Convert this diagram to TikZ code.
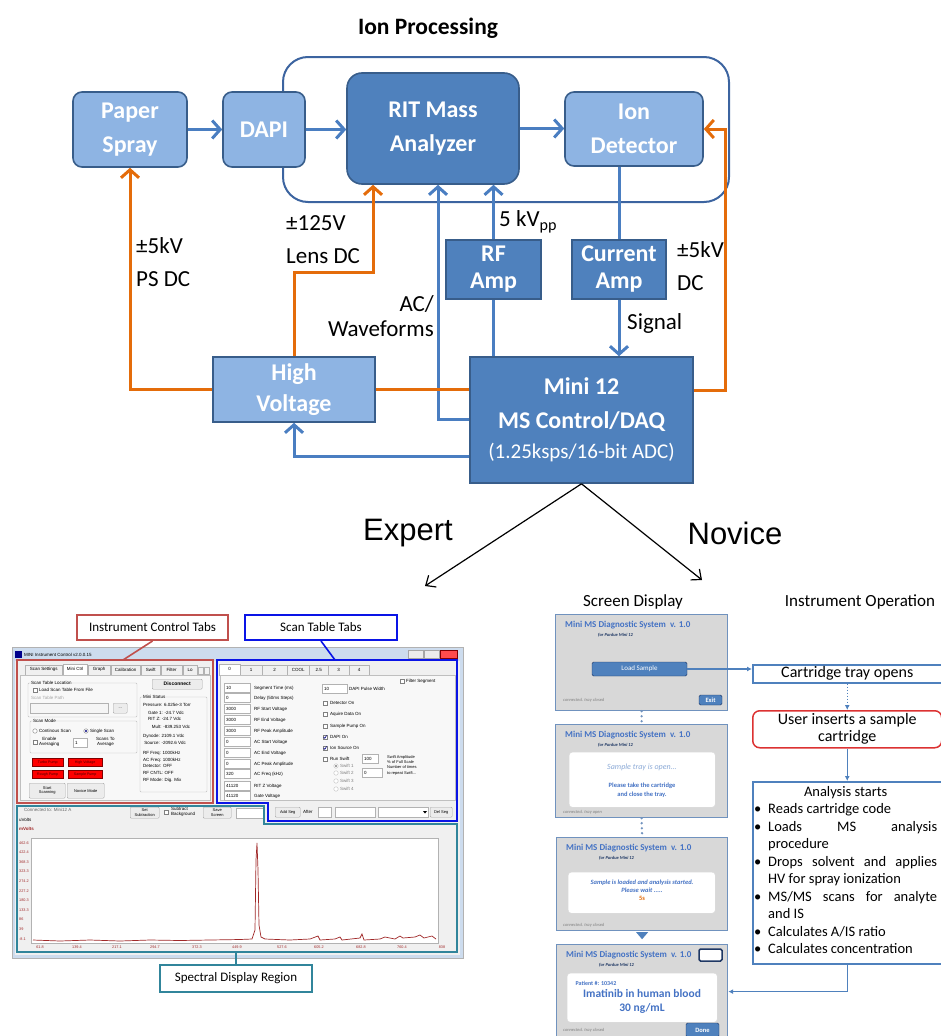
\documentclass[tikz,border=0pt]{standalone}
\usepackage{fontspec}
\setmainfont{Carlito}
\newfontfamily\uifont{Liberation Sans}
\usetikzlibrary{arrows.meta}
\definecolor{lightfill}{RGB}{142,180,227}
\definecolor{darkfill}{RGB}{79,129,189}
\definecolor{blkline}{RGB}{56,93,138}
\definecolor{linkblue}{RGB}{74,126,193}
\definecolor{hvorange}{RGB}{228,108,10}
\definecolor{grpline}{RGB}{60,100,160}
\definecolor{ictred}{RGB}{192,80,77}
\definecolor{sttblue}{RGB}{10,20,230}
\definecolor{sdrteal}{RGB}{49,133,155}
\definecolor{scrfill}{RGB}{216,216,216}
\definecolor{scrline}{RGB}{112,146,190}
\definecolor{scrtext}{RGB}{68,114,196}
\definecolor{scrdark}{RGB}{31,56,100}
\definecolor{scrlight}{RGB}{140,170,215}
\definecolor{uisred}{RGB}{220,50,50}
\definecolor{specred}{RGB}{160,40,40}
\definecolor{winframe}{RGB}{205,220,238}
\definecolor{client}{RGB}{240,240,240}
\newcommand\bul{\makebox[14pt][l]{\textbullet}}

\begin{document}
\begin{tikzpicture}[x=1pt,y=-1pt]
\tikzset{
  blk/.style={draw=blkline, line width=1.6pt, text=white, align=center, inner sep=0pt, font=\fontsize{24}{34}\selectfont\bfseries},
  lblk/.style={blk, fill=lightfill, rounded corners=9pt},
  dblk/.style={blk, fill=darkfill},
  lbl/.style={font=\fontsize{23}{33}\selectfont, align=left, inner sep=0pt},
  blueline/.style={draw=linkblue, line width=3pt},
  bluearr/.style={blueline, -{Straight Barb[length=8pt,width=18pt]}},
  orgline/.style={draw=hvorange, line width=3pt},
  orgarr/.style={orgline, -{Straight Barb[length=8pt,width=18pt]}},
  userarr/.style={draw=black, line width=1.2pt, -{Straight Barb[length=8pt,width=14pt]}},
  ui/.style={font=\uifont\fontsize{4.5}{5.5}\selectfont, inner sep=0pt, anchor=west},
  uibtn/.style={draw=gray!70, fill=gray!15, rounded corners=1pt, inner sep=0pt, align=center, anchor=north west, font=\uifont\fontsize{4}{4.6}\selectfont},
  redbtn/.style={draw=red!50!black, fill=red, text=red!30!black, inner sep=0pt, anchor=north west, minimum height=8, font=\uifont\fontsize{3.6}{4}\selectfont},
  tabst/.style={draw=gray!60, fill=gray!12, minimum height=10, inner sep=0pt, font=\uifont\fontsize{4.5}{5}\selectfont},
  chk/.style={draw=gray, fill=white, minimum size=4.5, inner sep=0pt},
  radio/.style={chk, circle},
  inbox/.style={draw=gray!60, fill=white, minimum height=9, inner sep=0pt},
  regbox/.style={fill=white, line width=2pt, minimum height=25, inner sep=0pt, font=\fontsize{13}{15}\selectfont},
  scr/.style={draw=scrline, fill=scrfill, line width=1.2pt, anchor=north west, inner sep=0pt},
  scrt/.style={font=\fontsize{9}{10}\selectfont\bfseries, text=scrtext, anchor=west, inner sep=0pt},
  scrs/.style={font=\fontsize{4.5}{5}\selectfont\bfseries\itshape, text=scrdark, anchor=west, inner sep=0pt},
  scrc/.style={font=\fontsize{4.5}{5}\selectfont\itshape, text=gray, anchor=west, inner sep=0pt},
  wbox/.style={draw=gray!30, fill=white, rounded corners=3pt, anchor=north west, inner sep=0pt},
  smbtn/.style={draw=scrdark, fill=darkfill, text=white, rounded corners=1.5pt, inner sep=0pt, font=\fontsize{6.5}{7}\selectfont\bfseries},
  opbox/.style={draw=darkfill, fill=white, line width=1.5pt, align=center, inner sep=0pt, anchor=north west, font=\fontsize{16}{17}\selectfont},
  oparr/.style={draw=darkfill, line width=1.5pt, -{Latex[length=5pt,width=5pt]}},
  dotcon/.style={draw=scrline, line width=2.6pt, line cap=round, dash pattern=on 0pt off 5pt}
}
\useasboundingbox (0,0) rectangle (941,1036);

\node[font=\fontsize{23.5}{26}\selectfont\bfseries] (IPT) at (428,28) {Ion Processing};
\draw[draw=grpline, line width=2pt, rounded corners=25pt] (283,57) rectangle (729,202);

\node[lblk, minimum width=114, minimum height=75] (PS) at (130,129.5) {Paper\\Spray};
\node[lblk, minimum width=82, minimum height=75] (DAPI) at (264,129.5) {DAPI};
\node[dblk, rounded corners=15pt, minimum width=172, minimum height=111] (RIT) at (433,128.5) {RIT Mass\\Analyzer};
\node[lblk, minimum width=138, minimum height=74] (ID) at (634,129) {Ion\\Detector};
\node[dblk, minimum width=95, minimum height=59, font=\fontsize{24}{27}\selectfont\bfseries] (RF) at (493.5,269.5) {RF\\Amp};
\node[dblk, minimum width=94, minimum height=59, font=\fontsize{24}{27}\selectfont\bfseries] (CA) at (619,269.5) {Current\\Amp};
\node[blk, fill=lightfill, minimum width=162, minimum height=65, font=\fontsize{24}{31}\selectfont\bfseries] (HV) at (294,389.5) {High\\Voltage};
\node[dblk, minimum width=223, minimum height=126] (MC) at (581.5,420) {Mini 12\\MS Control/DAQ\\[-4pt]{\mdseries\fontsize{21}{28}\selectfont (1.25ksps/16-bit ADC)}};

\coordinate (lens) at (373,272);
\coordinate (acw) at (438,419);
\coordinate (hvin) at (294,456);
\coordinate (dcr) at (725,390);

\draw[bluearr] (PS) -- (DAPI);
\draw[bluearr] (DAPI.east) -- (DAPI.east -| RIT.west);
\draw[bluearr] (RIT.east) -- (RIT.east -| ID.west);
\draw[blueline] (MC.north -| RF.south) -- (RF.south);
\draw[bluearr] (RF.north) -- (RF.north |- RIT.south);
\draw[blueline] (CA.north |- ID.south) -- (CA.north);
\draw[bluearr] (CA.south) -- (CA.south |- MC.north);
\draw[bluearr] (MC.west |- acw) -- (acw) -- (acw |- RIT.south);
\draw[bluearr] (MC.west |- hvin) -- (hvin) -- (HV.south);
\draw[orgarr] (HV.west) -| (PS.south);
\draw[orgarr] (HV.north) |- (lens) -- (lens |- RIT.south);
\draw[orgline] (HV.east) -- (HV.east -| MC.west);
\draw[orgarr] (MC.east |- dcr) -- (dcr) -- (dcr |- ID.east) -- (ID.east);

\node[lbl, anchor=west] (psdc) at (136,262) {±5kV\\PS DC};
\node[lbl, anchor=west] (lensdc) at (286,240) {±125V\\Lens DC};
\node[lbl, anchor=east, align=right, font=\fontsize{23}{25}\selectfont] (acwl) at (434,316) {AC/\\Waveforms};
\node[lbl, anchor=west] (kvpp) at (499,222) {5 kV\textsubscript{pp}};
\node[lbl, anchor=west] (dc5) at (677,266) {±5kV\\DC};
\node[lbl, anchor=west] (sig) at (627,323) {Signal};

\coordinate (expe) at (425,586);
\coordinate (nove) at (702,580);
\draw[userarr] (MC.south) -- (expe);
\draw[userarr] (MC.south) -- (nove);
\node[font=\uifont\fontsize{31}{34}\selectfont] (EXP) at (408,533) {Expert};
\node[font=\uifont\fontsize{31}{34}\selectfont] (NOV) at (735,533) {Novice};

\draw[draw=gray!60, fill=winframe] (12,647) rectangle (463,958);
\fill[client] (15,661) rectangle (460,955);
\fill[blue!55!black] (15,651) rectangle (22,658);
\node[ui] (wtitle) at (24,655) {MINI Instrument Control v2.0.0.15};
\draw[gray!70, fill=gray!15] (408,650) rectangle (423,658);
\draw[gray!70, fill=gray!15] (424,650) rectangle (439,658);
\draw[red!50!black, fill=red!70] (440,650) rectangle (457,658);

\foreach \x/\w/\lab [count=\i] in {25/37/Scan Settings,88/22/Graph,111/29/Calibration,141/19/Swift,161/21/Filter,183/14/Lo}
  \node[tabst, minimum width=\w, anchor=south west] (lt\i) at (\x,675) {\lab};
\node[tabst, fill=white, minimum width=24, minimum height=11, anchor=south west] (ltsel) at (63,675) {Mini Ctrl};
\draw[gray!60, fill=gray!10] (198,667) rectangle (203,674);
\draw[gray!60, fill=gray!10] (204,667) rectangle (209,674);
\draw[gray!50, fill=client!50!white] (20,675) rectangle (210,800);

\draw[gray!50, rounded corners=1pt] (28,683) rectangle (137,717);
\node[ui, fill=client!50!white] (gstl) at (31,683) {Scan Table Location};
\node[chk] (c1) at (35,690) {};
\node[ui] (c1l) at (39,690) {Load Scan Table From File};
\node[ui, text=gray!70] (stp) at (31,698) {Scan Table Path};
\node[inbox, fill=gray!8, minimum width=78, minimum height=10, anchor=north west] (stpbox) at (30,703) {};
\node[uibtn, minimum width=14, minimum height=10] (dots) at (113,703) {...};

\draw[gray!50, rounded corners=1pt] (30,721) rectangle (137,753);
\node[ui, fill=client!50!white] (gsm) at (33,721) {Scan Mode};
\node[radio] (r1) at (35,731) {};
\node[ui] (r1l) at (39,731) {Continous Scan};
\node[radio, path picture={\fill[blue!50!black] (path picture bounding box.center) circle (1.2pt);}] (r2) at (86,731) {};
\node[ui] (r2l) at (90,731) {Single Scan};
\node[chk] (c2) at (35,742) {};
\node[ui, align=center] (c2l) at (39,742) {Enable\\Averaging};
\node[inbox, minimum width=14, anchor=west] (avg) at (73,743) {};
\node[ui] (avgv) at (75,743) {1};
\node[ui, align=center] (sta) at (96,742) {Scans To\\Average};

\node[redbtn, minimum width=31] (tp) at (32,758) {Turbo Pump};
\node[redbtn, minimum width=34] (hvp) at (68,758) {High Voltage};
\node[redbtn, minimum width=31] (rp) at (32,770) {Rough Pump};
\node[redbtn, minimum width=34] (sp) at (68,770) {Sample Pump};
\node[uibtn, minimum width=36, minimum height=15] (ssb) at (29,783) {Start\\Scanning};
\node[uibtn, minimum width=37, minimum height=15] (nmb) at (67,783) {Novice Mode};

\node[uibtn, minimum width=50, minimum height=10, font=\uifont\bfseries\fontsize{5}{6}\selectfont] (disc) at (152,679) {Disconnect};
\draw[gray!50, rounded corners=1pt] (140,697) rectangle (207,792);
\node[ui, fill=client!50!white] (mstat) at (143,697) {Mini Status};
\foreach \y/\lab [count=\i] in {705/Pressure: 6.025e-3 Torr,713/\ \ \ \ Gate 1: -24.7 Vdc,719/\ \ \ \ RIT Z: -24.7 Vdc,727/\ \ \ \ \ \ \ Mult: -839.253 Vdc,736/Dynode: 2109.1 Vdc,743/\ Source: -2092.6 Vdc,753/RF Freq: 1000kHz,760/AC Freq: 1000kHz,766/Detector: OFF,773/RF CNTL: OFF,780/RF Mode: Dig. Mix}
  \node[ui] (ms\i) at (143,\y) {\lab};

\foreach \x/\w/\lab [count=\i] in {240/22/1,262/25/2,287/22/COOL,309/19/2.5,328/21/3,349/20/4}
  \node[tabst, minimum width=\w, anchor=south west] (rt\i) at (\x,675) {\lab};
\node[tabst, fill=white, minimum width=21, minimum height=11, anchor=south west] (rtsel) at (219,675) {0};
\draw[gray!50, fill=client!50!white] (220,675) rectangle (455,800);

\foreach \y/\val/\lab [count=\i] in {688/10/Segment Time (ms),698/0/Delay (50ms Steps),709/3000/RF Start Voltage,720/3000/RF End Voltage,731/3000/RF Peak Amplitude,742/0/AC Start Voltage,753/0/AC End Voltage,764/0/AC Peak Amplitude,774/320/AC Freq (kHz),786/41120/RIT Z Voltage,796/41120/Gate Voltage}{
  \node[inbox, minimum width=26, anchor=west] (vb\i) at (224,\y) {};
  \node[ui] (vv\i) at (226,\y) {\val};
  \node[ui] (vl\i) at (254,\y) {\lab};
}
\node[inbox, minimum width=25, anchor=west] (dpw) at (322,689) {};
\node[ui] (dpwv) at (324,689) {10};
\node[ui] (dpwl) at (349,689) {DAPI Pulse Width};
\node[chk] (fsc) at (402,681) {};
\node[ui] (fscl) at (406,681) {Filter Segment};
\foreach \y/\lab [count=\i] in {703/Detector On,714/Aquire Data On,726/Sample Pump On,737/DAPI On,748/Ion Source On,759/Run Swift}{
  \node[chk] (cb\i) at (325,\y) {};
  \node[ui] (cbl\i) at (330,\y) {\lab};
}
\draw[blue!50!black, line width=0.6pt] (323.6,737) -- (324.8,738.3) -- (326.6,735.4);
\draw[blue!50!black, line width=0.6pt] (323.6,748) -- (324.8,749.3) -- (326.6,746.4);
\node[inbox, minimum width=16, anchor=west] (sa) at (362,759) {};
\node[ui] (sav) at (364,759) {100};
\node[ui, align=left, anchor=north west, font=\uifont\fontsize{4}{5.3}\selectfont] (sal) at (387,755) {Swift Amplitude\\\% of Full Scale\\Number of times\\to repeat Swift...};
\foreach \y [count=\i] in {766,773,781,789}{
  \node[radio, draw=gray!50] (sw\i) at (336,\y) {};
  \node[ui, text=gray] (swl\i) at (340,\y) {Swift \i};
}
\fill[gray] (sw1.center) circle (1.1pt);
\node[inbox, minimum width=20, anchor=west] (snt) at (362,773) {};
\node[ui] (sntv) at (364,773) {0};
\node[uibtn, minimum width=25, minimum height=10] (adds) at (275,807) {Add Seg};
\node[ui] (aft) at (303,812) {After};
\node[inbox, minimum width=13, minimum height=10, anchor=north west] (aftsp) at (318,807) {};
\node[inbox, minimum width=40, minimum height=10, anchor=north west] (segb) at (335,807) {};
\node[inbox, minimum width=50, minimum height=10, anchor=north west] (segd) at (378,807) {};
\fill[black] (423,811) -- (427,811) -- (425,813.5) -- cycle;
\node[uibtn, minimum width=22, minimum height=10] (dels) at (430,807) {Del Seg};

\node[ui, text=gray!80!black] (conn) at (24,810) {Connected to: Mini12 A};
\node[ui] (uv) at (19,820) {uVolts};
\node[ui, text=specred, font=\uifont\bfseries\fontsize{4.5}{5}\selectfont] (mv) at (19,829) {mVolts};
\node[uibtn, minimum width=29, minimum height=11] (setsub) at (130,807) {Set\\Subtraction};
\node[chk] (subc) at (166,812) {};
\node[ui, align=left] (subl) at (171,812) {Subtract\\Background};
\node[uibtn, minimum width=28, minimum height=11] (savs) at (203,807) {Save\\Screen};
\node[inbox, minimum width=27, minimum height=10, anchor=north west] (sbox) at (236,808) {};
\draw[gray!60, fill=white] (31,838) rectangle (438,943);
\foreach \y/\lab [count=\i] in {843/462.6,852/422.4,862/368.3,871/323.3,881/274.2,891/227.2,900/180.3,910/133.3,919/86,929/39,939/-8.1}
  \node[ui, text=specred, font=\uifont\fontsize{3.8}{4}\selectfont] (yl\i) at (19,\y) {\lab};
\foreach \x/\lab [count=\i] in {40/61.8,77/139.4,117/217.1,155/294.7,197/372.3,237/449.9,282/527.6,319/605.2,361/682.8,402/760.4,442/838}
  \node[ui, anchor=center, text=specred, font=\uifont\fontsize{3.8}{4}\selectfont] (xl\i) at (\x,947.5) {\lab};
\draw[specred, line width=0.7pt] plot coordinates {(33,940) (60,941) (90,940) (120,941) (150,940) (180,940.5) (210,940) (240,939.5) (252,939) (255,930) (256,860) (257,843) (258,870) (259,925) (261,937) (265,939) (290,940) (310,939) (318,936) (320,940) (335,939) (340,937) (342,940) (360,938) (362,934) (364,940) (380,939) (385,937) (395,939) (400,936) (403,938) (415,937) (420,935) (424,938) (432,936) (436,939)};

\draw[ictred, line width=1.6pt] (17,660) rectangle (213,803);
\draw[sttblue, line width=1.6pt] (217,660) -- (457,660) -- (457,821) -- (268,821) -- (268,803) -- (217,803) -- cycle;
\draw[sdrteal, line width=1.6pt] (17,806) -- (264,806) -- (264,824) -- (457,824) -- (457,952) -- (17,952) -- cycle;
\node[regbox, draw=ictred, minimum width=151] (ICT) at (152.5,627.5) {Instrument Control Tabs};
\node[regbox, draw=sttblue, minimum width=152] (STT) at (321,627.5) {Scan Table Tabs};
\node[regbox, draw=sdrteal, minimum width=152, minimum height=27] (SDR) at (236,978.5) {Spectral Display Region};
\coordinate (ictend) at (123,660);
\coordinate (sttend) at (335,660);
\coordinate (sdrend) at (236,952);
\draw[ictred, line width=1.6pt] (ICT.south) -- (ictend);
\draw[sttblue, line width=1.6pt] (STT.south) -- (sttend);
\draw[sdrteal, line width=1.6pt] (SDR.north) -- (sdrend);

\node[font=\fontsize{17}{19}\selectfont] (SD) at (633,602) {Screen Display};
\node[font=\fontsize{17}{19}\selectfont] (IO) at (860,602) {Instrument Operation};

\node[scr, minimum width=172, minimum height=96] (B1) at (555,614) {};
\node[scr, minimum width=172, minimum height=93] (B2) at (555,724) {};
\node[scr, minimum width=171, minimum height=93] (B3) at (556,837) {};
\node[scr, minimum width=171, minimum height=94] (B4) at (556,944) {};
\foreach \b in {B1,B2,B3,B4}{
  \node[scrt] (t\b) at ([xshift=10pt,yshift=-11pt]\b.north west) {Mini MS Diagnostic System\ \ v. 1.0};
  \node[scrs] (s\b) at ([xshift=43pt,yshift=-21pt]\b.north west) {for Purdue Mini 12};
}
\node[smbtn, fill=darkfill, draw=scrdark, minimum width=95, minimum height=14, font=\fontsize{7}{8}\selectfont] (LS) at (639.5,669) {Load Sample};
\node[smbtn, minimum width=23, minimum height=10] (EX1) at (710.5,700) {Exit};
\node[scrc] (cB1) at (563,700) {connected. tray closed};

\node[wbox, minimum width=146, minimum height=55] (W2) at (569,752) {};
\node[font=\fontsize{8}{9}\selectfont\itshape, text=scrlight] (W2a) at (642,767) {Sample tray is open...};
\node[font=\fontsize{6.5}{9.5}\selectfont\bfseries, text=scrtext, align=center] (W2b) at (642,790) {Please take the cartridge\\and close the tray.};
\node[scrc] (cB2) at (563,812) {connected. tray open};

\node[wbox, minimum width=147, minimum height=41] (W3) at (568,872) {};
\node[font=\fontsize{6.5}{8.5}\selectfont\bfseries\itshape, text=scrtext, align=center] (W3a) at (642,886) {Sample is loaded and analysis started.\\Please wait .....};
\node[font=\fontsize{6.5}{8}\selectfont\bfseries, text=hvorange] (W3b) at (642,898) {5s};
\node[scrc] (cB3) at (563,925) {connected. tray closed};

\node[draw=scrdark, fill=white, line width=1.5pt, rounded corners=1.5pt, minimum width=23, minimum height=12, inner sep=0pt] (WB4) at (710.5,955) {};
\node[wbox, minimum width=150, minimum height=49] (W4) at (567,973) {};
\node[font=\fontsize{6}{7}\selectfont\bfseries, text=scrtext, anchor=west] (W4a) at (572,983) {Patient \#: 10342};
\node[font=\fontsize{11.5}{14}\selectfont\bfseries, text=scrtext, align=center] (W4b) at (642,1001) {Imatinib in human blood\\30 ng/mL};
\node[scrc] (cB4) at (563,1030) {connected. tray closed};
\node[smbtn, minimum width=33, minimum height=14] (DN) at (702.5,1030) {Done};

\draw[dotcon] (B1.south) -- (B2.north);
\draw[dotcon] (B2.south) -- (B3.north);
\fill[darkfill] ([xshift=-6pt,yshift=-1pt]B3.south) -- ([xshift=6pt,yshift=-1pt]B3.south) -- ([yshift=-8pt]B3.south) -- cycle;

\node[opbox, minimum width=189, minimum height=18] (CTO) at (752,664) {Cartridge tray opens};
\node[opbox, draw=uisred, rounded corners=7pt, minimum width=189, minimum height=37] (UIS) at (752,710) {User inserts a sample\\cartridge};
\node[opbox, minimum width=189, minimum height=182] (AS) at (752,781) {};
\node[font=\fontsize{14.5}{17.5}\selectfont, align=left, anchor=north west, inner sep=0pt] (AStx) at (754,786) {\makebox[183pt]{Analysis starts}\\
\bul Reads cartridge code\\
\bul\makebox[169pt][s]{Loads MS analysis}\\
\hspace*{14pt}procedure\\
\bul\makebox[169pt][s]{Drops solvent and applies}\\
\hspace*{14pt}HV for spray ionization\\
\bul\makebox[169pt][s]{MS/MS scans for analyte}\\
\hspace*{14pt}and IS\\
\bul Calculates A/IS ratio\\
\bul Calculates concentration};

\draw[oparr] (LS.east) -- (LS.east -| CTO.west);
\draw[oparr, dash pattern=on 1.5pt off 1.5pt] (CTO.south) -- (UIS.north);
\draw[oparr] (UIS.south) -- (AS.north);
\draw[oparr] (AS.south) |- (B4.east);
\end{tikzpicture}
\end{document}
